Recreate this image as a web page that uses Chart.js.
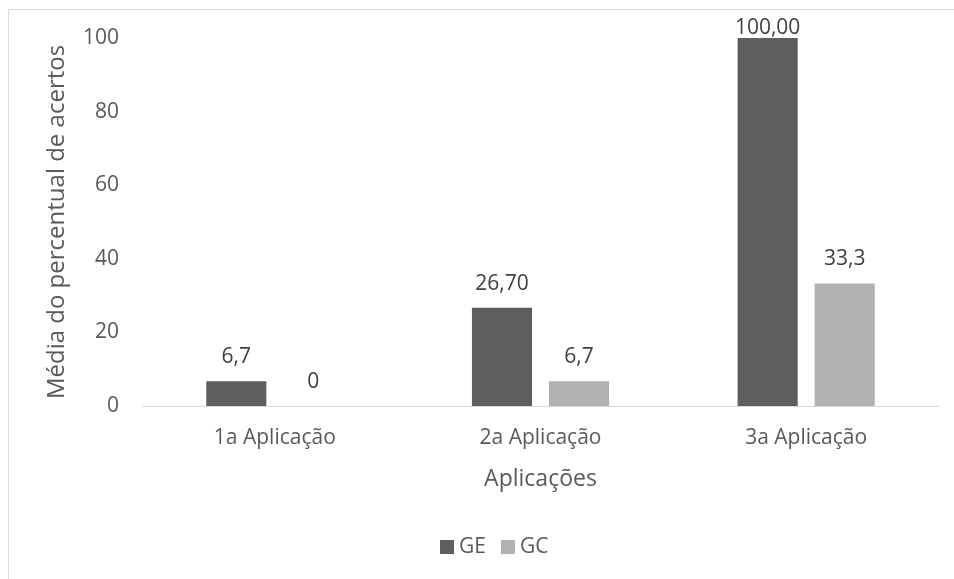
<!DOCTYPE html>
<html lang="pt">
<head>
<meta charset="UTF-8">
<title>Média do percentual de acertos</title>
<style>
* { margin: 0; padding: 0; box-sizing: border-box; }
body { width: 954px; height: 579px; overflow: hidden; background: #fff; position: relative; }
.frame {
    position: absolute;
    left: 8px;
    top: 9px;
    width: 980px;
    height: 600px;
    border-left: 1px solid #d9d9d9;
    border-top: 1px solid #d9d9d9;
}
#chart { position: absolute; left: 0; top: 0; }
</style>
</head>
<body>
<div class="frame"></div>
<canvas id="chart" width="954" height="579"></canvas>
<script src="https://cdn.jsdelivr.net/npm/chart.js@4/dist/chart.umd.min.js"></script>
<script>
// categories and series
var applications = ['1a Aplicação', '2a Aplicação', '3a Aplicação'];
var geValues = [6.7, 26.7, 100];
var gcValues = [0, 6.7, 33.3];
// decimals shown in each bar label
var geDigits = [1, 2, 2];
var gcDigits = [0, 1, 1];
var yTicks = [0, 20, 40, 60, 80, 100];

var textColor = '#595959';
Chart.defaults.font.family = "'Open Sans', sans-serif";
Chart.defaults.color = textColor;

// writes the value above each bar, comma as decimal separator
var barLabels = {
    id: 'barLabels',
    afterDatasetsDraw: function(chart) {
        var ctx = chart.ctx;
        var top = chart.chartArea.top;
        ctx.save();
        ctx.font = "21px 'Open Sans', sans-serif";
        ctx.fillStyle = '#404040';
        ctx.textAlign = 'center';
        ctx.textBaseline = 'middle';
        chart.data.datasets.forEach(function(ds, i) {
            var meta = chart.getDatasetMeta(i);
            meta.data.forEach(function(bar, j) {
                var txt = ds.data[j].toFixed(ds.digits[j]).replace('.', ',');
                var y = Math.max(bar.y - 24, top - 10);
                ctx.fillText(txt, bar.x, y);
            });
        });
        ctx.restore();
    }
};

// compact legend under the axis title (square swatch, tight text gap)
var bottomLegend = {
    id: 'bottomLegend',
    afterDraw: function(chart) {
        var ctx = chart.ctx;
        var x = 440, y = 547;
        ctx.save();
        ctx.font = "21px 'Open Sans', sans-serif";
        ctx.textAlign = 'left';
        ctx.textBaseline = 'middle';
        chart.data.datasets.forEach(function(ds) {
            ctx.fillStyle = ds.backgroundColor;
            ctx.fillRect(x, y - 7, 14, 14);
            ctx.fillStyle = textColor;
            ctx.fillText(ds.label, x + 19, y);
            x += 19 + ctx.measureText(ds.label).width + 15;
        });
        ctx.restore();
    }
};

new Chart(document.getElementById('chart'), {
    type: 'bar',
    data: {
        labels: applications,
        datasets: [{
            label: 'GE',
            data: geValues,
            digits: geDigits,
            backgroundColor: '#5e5e5e',
            categoryPercentage: 0.58,
            barPercentage: 0.78
        }, {
            label: 'GC',
            data: gcValues,
            digits: gcDigits,
            backgroundColor: '#b2b2b2',
            categoryPercentage: 0.58,
            barPercentage: 0.78
        }]
    },
    options: {
        responsive: false,
        animation: false,
        layout: { padding: { left: 0, right: 15, top: 38, bottom: 51 } },
        plugins: {
            tooltip: { enabled: false },
            legend: { display: false }
        },
        scales: {
            x: {
                grid: { display: false, drawTicks: false },
                border: { color: '#d9d9d9', width: 1 },
                ticks: { padding: 19, color: textColor, font: { size: 21 } },
                title: {
                    display: true,
                    text: 'Aplicações',
                    color: textColor,
                    font: { size: 23 },
                    padding: { top: 0, bottom: 35 }
                },
                afterFit: function(scale) { scale.height = 122; }
            },
            y: {
                min: 0,
                max: 100,
                afterBuildTicks: function(scale) {
                    scale.ticks = yTicks.map(function(v) { return { value: v }; });
                },
                grid: { display: false, drawTicks: false },
                border: { display: false },
                ticks: { padding: 23, color: textColor, font: { size: 21 } },
                title: {
                    display: true,
                    text: 'Média do percentual de acertos',
                    color: textColor,
                    font: { size: 24 },
                    padding: { top: 43, bottom: 0 }
                },
                afterFit: function(scale) { scale.width = 142; }
            }
        }
    },
    plugins: [barLabels, bottomLegend]
});
</script>
</body>
</html>
